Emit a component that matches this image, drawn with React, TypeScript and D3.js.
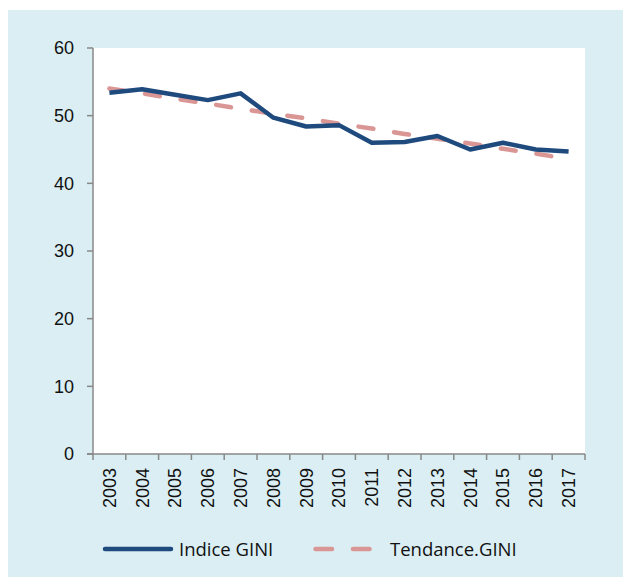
import React, { useEffect, useRef } from 'react';
import * as d3 from 'd3';

const years = ['2003', '2004', '2005', '2006', '2007', '2008', '2009', '2010', '2011', '2012', '2013', '2014', '2015', '2016', '2017'];
const giniValues = [53.4, 53.9, 53.1, 52.3, 53.3, 49.7, 48.4, 48.6, 46.0, 46.1, 47.0, 45.0, 46.0, 45.0, 44.7];
const trendValues = [54.0, 53.3, 52.5, 51.8, 51.0, 50.3, 49.6, 48.8, 48.1, 47.3, 46.6, 45.9, 45.1, 44.4, 43.6];
const yTicks = [0, 10, 20, 30, 40, 50, 60];

const W = 630;
const H = 584;
const BLUE = '#1F4A7E';
const PINK = '#D99694';
const AXIS = '#888888';

const App = () => {
    const svgRef = useRef<SVGSVGElement | null>(null);

    useEffect(() => {
        if (!svgRef.current) return;
        const svg = d3.select(svgRef.current);
        svg.selectAll('*').remove();

        const plot = { left: 93, right: 585, top: 48, bottom: 454 };

        const x = d3.scaleBand().domain(years).range([plot.left, plot.right]).padding(0);
        const y = d3.scaleLinear().domain([0, 60]).range([plot.bottom, plot.top]);
        const cx = (d: string) => (x(d) || 0) + x.bandwidth() / 2;

        // background + plot area
        svg.append('rect').attr('x', 8).attr('y', 10).attr('width', 615).attr('height', 567).attr('fill', '#DAEEF3');
        svg.append('rect')
            .attr('x', plot.left).attr('y', plot.top)
            .attr('width', plot.right - plot.left).attr('height', plot.bottom - plot.top)
            .attr('fill', '#ffffff');

        // y axis
        const yAxis = svg.append('g');
        yAxis.append('line')
            .attr('x1', plot.left).attr('x2', plot.left)
            .attr('y1', plot.top).attr('y2', plot.bottom)
            .attr('stroke', AXIS).attr('stroke-width', 1.5);
        yTicks.forEach(t => {
            yAxis.append('line')
                .attr('x1', plot.left - 6).attr('x2', plot.left)
                .attr('y1', y(t)).attr('y2', y(t))
                .attr('stroke', AXIS).attr('stroke-width', 1.5);
            yAxis.append('text')
                .attr('x', 74).attr('y', y(t)).attr('dy', '0.36em')
                .attr('text-anchor', 'end')
                .attr('font-family', 'Liberation Sans, Arial, sans-serif')
                .attr('font-size', '18px')
                .attr('fill', '#111')
                .text(t);
        });

        // x axis
        const xAxis = svg.append('g');
        xAxis.append('line')
            .attr('x1', plot.left - 6).attr('x2', plot.right)
            .attr('y1', plot.bottom).attr('y2', plot.bottom)
            .attr('stroke', AXIS).attr('stroke-width', 1.5);
        [...years.map(d => x(d) || 0), plot.right].forEach(px => {
            xAxis.append('line')
                .attr('x1', px).attr('x2', px)
                .attr('y1', plot.bottom).attr('y2', plot.bottom + 6)
                .attr('stroke', AXIS).attr('stroke-width', 1.5);
        });
        years.forEach(d => {
            xAxis.append('text')
                .attr('transform', `translate(${cx(d)},468) rotate(-90)`)
                .attr('dy', '0.36em')
                .attr('text-anchor', 'end')
                .attr('font-family', 'Liberation Sans, Arial, sans-serif')
                .attr('font-size', '18px')
                .attr('fill', '#111')
                .text(d);
        });

        // series
        const line = d3.line<number>()
            .x((_, i) => cx(years[i]))
            .y(v => y(v));

        svg.append('path')
            .datum(trendValues)
            .attr('d', line)
            .attr('fill', 'none')
            .attr('stroke', PINK)
            .attr('stroke-width', 4.5)
            .attr('stroke-linecap', 'round')
            .attr('stroke-dasharray', '15 21');

        svg.append('path')
            .datum(giniValues)
            .attr('d', line)
            .attr('fill', 'none')
            .attr('stroke', BLUE)
            .attr('stroke-width', 4.5)
            .attr('stroke-linejoin', 'round');

        // legend
        const legend = svg.append('g').attr('font-family', 'Open Sans, sans-serif').attr('font-size', '18.5px').attr('fill', '#111');
        legend.append('line')
            .attr('x1', 105).attr('x2', 171).attr('y1', 549).attr('y2', 549)
            .attr('stroke', BLUE).attr('stroke-width', 4.5).attr('stroke-linecap', 'round');
        legend.append('text').attr('x', 179).attr('y', 549).attr('dy', '0.36em').text('Indice GINI');
        legend.append('line')
            .attr('x1', 315.5).attr('x2', 372).attr('y1', 549).attr('y2', 549)
            .attr('stroke', PINK).attr('stroke-width', 4.5).attr('stroke-linecap', 'round')
            .attr('stroke-dasharray', '16.5 21');
        legend.append('text').attr('x', 390).attr('y', 549).attr('dy', '0.36em').text('Tendance.GINI');
    }, []);

    return (
        <svg ref={svgRef} width={W} height={H} style={{ position: 'absolute', left: 0, top: 0, display: 'block' }} />
    );
};

export default App;
